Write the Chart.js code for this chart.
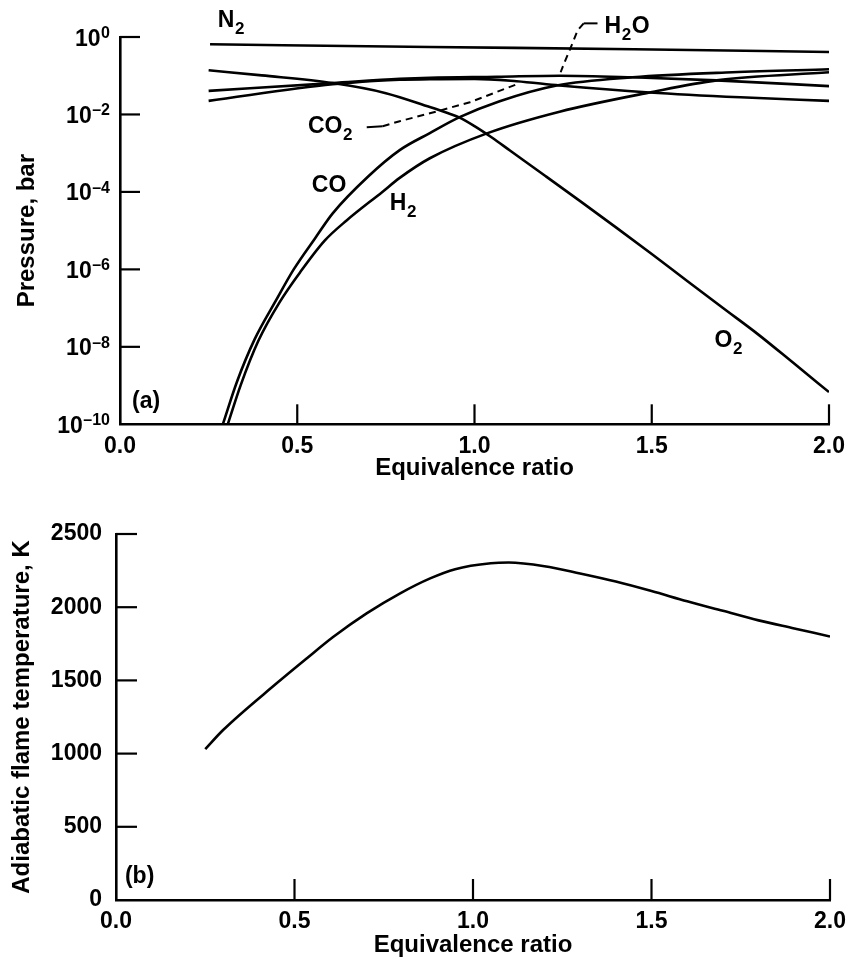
<!DOCTYPE html>
<html>
<head>
<meta charset="utf-8">
<script src="https://cdn.jsdelivr.net/npm/chart.js@4"></script>
<style>
  html, body { margin: 0; padding: 0; background: #fff; }
  #wrap { position: relative; width: 854px; height: 965px; background: #fff; }
  canvas { position: absolute; left: 0; }
  #top { top: 0; }
  #bot { top: 490px; }
</style>
</head>
<body>
<div id="wrap">
  <canvas id="top" width="854" height="490"></canvas>
  <canvas id="bot" width="854" height="475"></canvas>
</div>
<script>
// ---------- data ----------
// (a) partial pressures, bar, vs equivalence ratio
const phiN2 = [0.254, 0.874, 1.45, 2.0];
const pN2   = [0.649, 0.553, 0.482, 0.41];

const phiO2 = [0.25, 0.40, 0.60, 0.75, 0.874, 0.92, 0.958, 1.0, 1.05, 1.1, 1.2, 1.3, 1.4, 1.5, 1.6, 1.7, 1.8, 1.9, 2.0];
const pO2   = [0.138, 0.102, 0.0646, 0.0355, 0.0155, 0.0112, 8.3e-3, 5.0e-3, 2.5e-3, 1.17e-3, 2.57e-4, 5.6e-5, 1.2e-5, 2.5e-6, 5.0e-7, 1.02e-7, 2.1e-8, 3.8e-9, 6.8e-10];

const phiH2O = [0.25, 0.60, 0.789, 0.874, 1.063, 1.24, 1.446, 1.683, 2.0];
const pH2O   = [0.0407, 0.0646, 0.083, 0.089, 0.094, 0.10, 0.091, 0.076, 0.054];

const phiCO2 = [0.25, 0.60, 0.789, 0.874, 1.0, 1.119, 1.24, 1.494, 1.75, 2.0];
const pCO2   = [0.0224, 0.060, 0.079, 0.081, 0.083, 0.072, 0.056, 0.037, 0.0277, 0.0224];

const phiCO = [0.290, 0.33, 0.38, 0.44, 0.49, 0.55, 0.60, 0.70, 0.789, 0.874, 0.958, 1.071, 1.232, 1.446, 1.728, 2.0];
const pCO   = [1e-10, 1.26e-9, 1.58e-8, 1.58e-7, 1e-6, 6.3e-6, 2.8e-5, 2.5e-4, 1.2e-3, 3.3e-3, 8.5e-3, 0.022, 0.056, 0.091, 0.123, 0.147];

const phiH2 = [0.304, 0.34, 0.39, 0.45, 0.51, 0.578, 0.64, 0.74, 0.789, 0.874, 1.037, 1.24, 1.494, 1.683, 2.0];
const pH2   = [1e-10, 1e-9, 1.41e-8, 1.41e-7, 8.9e-7, 5.6e-6, 1.86e-5, 1e-4, 2.3e-4, 7.4e-4, 3.3e-3, 0.0118, 0.037, 0.076, 0.123];

// (b) adiabatic flame temperature, K
const phiT = [0.25, 0.30, 0.45, 0.534, 0.609, 0.702, 0.796, 0.88, 0.95, 1.05, 1.10, 1.20, 1.30, 1.40, 1.50, 1.60, 1.70, 1.80, 1.90, 2.0];
const tempK = [1030, 1161, 1480, 1650, 1798, 1958, 2095, 2197, 2260, 2300, 2305, 2280, 2230, 2175, 2110, 2040, 1975, 1910, 1855, 1800];

// tick values and labels
const phiTicks = [0, 0.5, 1.0, 1.5, 2.0];
const phiTickLabels = ['0.0', '0.5', '1.0', '1.5', '2.0'];
const pressureTicks = [1e-10, 1e-8, 1e-6, 1e-4, 1e-2, 1];
const pressureTickSup = ['\u201310', '\u20138', '\u20136', '\u20134', '\u20132', '0'];
const tempTicks = [0, 500, 1000, 1500, 2000, 2500];

// ---------- styling ----------
const FONT = '"Liberation Sans", Arial, Helvetica, sans-serif';
Chart.defaults.font.family = FONT;
Chart.defaults.font.weight = 'bold';
Chart.defaults.color = '#000';

function pts(xs, ys) { return xs.map((x, i) => ({ x: x, y: ys[i] })); }
function lineDS(label, xs, ys) {
  return {
    label: label, data: pts(xs, ys),
    borderColor: '#000', borderWidth: 2.6, pointRadius: 0,
    fill: false, cubicInterpolationMode: 'monotone'
  };
}

// inward tick marks
const innerTicks = {
  id: 'innerTicks',
  afterDraw(chart, args, opts) {
    const ctx = chart.ctx;
    const ca = chart.chartArea;
    const xs = chart.scales.x, ys = chart.scales.y;
    ctx.save();
    ctx.strokeStyle = '#000';
    ctx.lineWidth = 2.2;
    xs.ticks.forEach(t => {
      if (t.value <= xs.min) return;
      const px = xs.getPixelForValue(t.value);
      ctx.beginPath(); ctx.moveTo(px, ca.bottom); ctx.lineTo(px, ca.bottom - opts.len); ctx.stroke();
    });
    ys.ticks.forEach(t => {
      if (t.value <= ys.min) return;
      const py = ys.getPixelForValue(t.value);
      ctx.beginPath(); ctx.moveTo(ca.left, py); ctx.lineTo(ca.left + opts.len, py); ctx.stroke();
    });
    ctx.restore();
  }
};

// power-of-ten labels on the log axis
const powerLabels = {
  id: 'powerLabels',
  afterDraw(chart, args, opts) {
    if (!opts.enabled) return;
    const ctx = chart.ctx;
    const ys = chart.scales.y;
    const xRight = chart.chartArea.left - 10;
    ctx.save();
    ctx.fillStyle = '#000';
    ctx.textBaseline = 'alphabetic';
    ctx.textAlign = 'left';
    pressureTicks.forEach((v, i) => {
      const py = ys.getPixelForValue(v);
      ctx.font = 'bold 16px ' + FONT;
      const sup = pressureTickSup[i];
      const sw = ctx.measureText(sup).width;
      ctx.fillText(sup, xRight - sw, py + 1);
      ctx.font = 'bold 23px ' + FONT;
      const bw = ctx.measureText('10').width;
      ctx.fillText('10', xRight - sw - bw - 0.5, py + 8.5);
    });
    ctx.restore();
  }
};

// curve labels with subscripts and leader lines
const curveLabels = {
  id: 'curveLabels',
  afterDraw(chart, args, opts) {
    const ctx = chart.ctx;
    const xs = chart.scales.x, ys = chart.scales.y;
    ctx.save();
    ctx.fillStyle = '#000';
    ctx.textBaseline = 'alphabetic';
    ctx.textAlign = 'left';
    (opts.items || []).forEach(it => {
      let px = xs.getPixelForValue(it.x);
      const py = ys.getPixelForValue(it.y);
      it.parts.forEach(p => {
        const sub = p[1] === 'sub';
        ctx.font = sub ? 'bold 17px ' + FONT : 'bold 23px ' + FONT;
        ctx.fillText(p[0], px, py + (sub ? 7 : 0));
        px += ctx.measureText(p[0]).width + 0.5;
      });
    });
    ctx.strokeStyle = '#000';
    ctx.lineWidth = 2;
    (opts.leaders || []).forEach(ld => {
      const P = ld.map(q => [xs.getPixelForValue(q[0]), ys.getPixelForValue(q[1])]);
      ctx.setLineDash([]);
      ctx.beginPath(); ctx.moveTo(P[0][0], P[0][1]); ctx.lineTo(P[1][0], P[1][1]); ctx.stroke();
      ctx.setLineDash([7, 5]);
      ctx.beginPath(); ctx.moveTo(P[1][0], P[1][1]);
      for (let k = 2; k < P.length; k++) ctx.lineTo(P[k][0], P[k][1]);
      ctx.stroke();
    });
    ctx.restore();
  }
};

const axisTitleFont = { size: 24, weight: 'bold', family: FONT };
const tickFont = { size: 23, weight: 'bold', family: FONT };
const noGrid = { display: false, drawTicks: false, tickLength: 0 };

// ---------- chart (a) ----------
new Chart(document.getElementById('top'), {
  type: 'line',
  data: {
    datasets: [
      lineDS('N2', phiN2, pN2),
      lineDS('O2', phiO2, pO2),
      lineDS('H2O', phiH2O, pH2O),
      lineDS('CO2', phiCO2, pCO2),
      lineDS('CO', phiCO, pCO),
      lineDS('H2', phiH2, pH2)
    ]
  },
  options: {
    responsive: false, animation: false, devicePixelRatio: 1,
    layout: { padding: { top: 37, right: 25, left: 0, bottom: 0 } },
    scales: {
      x: {
        type: 'linear', min: 0, max: 2,
        afterBuildTicks: s => { s.ticks = phiTicks.map(v => ({ value: v })); },
        afterFit: s => { s.height = 65.7; },
        grid: noGrid,
        border: { display: true, color: '#000', width: 2.6 },
        ticks: { font: tickFont, padding: 8.6, maxRotation: 0, autoSkip: false,
                 callback: (v) => phiTickLabels[phiTicks.indexOf(v)] },
        title: { display: true, text: 'Equivalence ratio', font: axisTitleFont, padding: { top: 0, bottom: 7.6 } }
      },
      y: {
        type: 'logarithmic', min: 1e-10, max: 1,
        afterBuildTicks: s => { s.ticks = pressureTicks.map(v => ({ value: v })); },
        afterFit: s => { s.width = 120; },
        grid: noGrid,
        border: { display: true, color: '#000', width: 2.6 },
        ticks: { display: false },
        title: { display: true, text: 'Pressure, bar', font: axisTitleFont, padding: { top: 12.6, bottom: 0 } }
      }
    },
    plugins: {
      legend: { display: false },
      tooltip: { enabled: false },
      innerTicks: { len: 20 },
      powerLabels: { enabled: true },
      curveLabels: {
        items: [
          { x: 0.276, y: 1.78, parts: [['N', ''], ['2', 'sub']] },
          { x: 1.367, y: 1.245, parts: [['H', ''], ['2', 'sub'], ['O', '']] },
          { x: 0.530, y: 3.27e-3, parts: [['CO', ''], ['2', 'sub']] },
          { x: 0.541, y: 9.8e-5, parts: [['CO', '']] },
          { x: 0.761, y: 3.4e-5, parts: [['H', ''], ['2', 'sub']] },
          { x: 1.677, y: 1e-8, parts: [['O', ''], ['2', 'sub']] },
          { x: 0.034, y: 2.6e-10, parts: [['(a)', '']] }
        ],
        leaders: [
          [[1.347, 2.25], [1.308, 2.25], [1.291, 1.49], [1.274, 0.611], [1.254, 0.222], [1.243, 0.123]],
          [[0.696, 4.7e-3], [0.741, 4.97e-3], [0.789, 6.7e-3], [0.874, 0.0107], [0.987, 0.0207], [1.119, 0.060]]
        ]
      }
    }
  },
  plugins: [innerTicks, powerLabels, curveLabels]
});

// ---------- chart (b) ----------
new Chart(document.getElementById('bot'), {
  type: 'line',
  data: { datasets: [lineDS('Adiabatic flame temperature', phiT, tempK)] },
  options: {
    responsive: false, animation: false, devicePixelRatio: 1,
    layout: { padding: { top: 44, right: 24, left: 0, bottom: 0 } },
    scales: {
      x: {
        type: 'linear', min: 0, max: 2,
        afterBuildTicks: s => { s.ticks = phiTicks.map(v => ({ value: v })); },
        afterFit: s => { s.height = 65; },
        grid: noGrid,
        border: { display: true, color: '#000', width: 2.6 },
        ticks: { font: tickFont, padding: 7.9, maxRotation: 0, autoSkip: false,
                 callback: (v) => phiTickLabels[phiTicks.indexOf(v)] },
        title: { display: true, text: 'Equivalence ratio', font: axisTitleFont, padding: { top: 0, bottom: 5.6 } }
      },
      y: {
        type: 'linear', min: 0, max: 2500,
        afterBuildTicks: s => { s.ticks = tempTicks.map(v => ({ value: v })); },
        afterFit: s => { s.width = 116; },
        grid: noGrid,
        border: { display: true, color: '#000', width: 2.6 },
        ticks: { font: tickFont, padding: 14, callback: v => String(v) },
        title: { display: true, text: 'Adiabatic flame temperature, K', font: axisTitleFont, padding: { top: 7.6, bottom: 0 } }
      }
    },
    plugins: {
      legend: { display: false },
      tooltip: { enabled: false },
      innerTicks: { len: 21 },
      powerLabels: { enabled: false },
      curveLabels: {
        items: [ { x: 0.025, y: 116, parts: [['(b)', '']] } ],
        leaders: []
      }
    }
  },
  plugins: [innerTicks, powerLabels, curveLabels]
});
</script>
</body>
</html>
